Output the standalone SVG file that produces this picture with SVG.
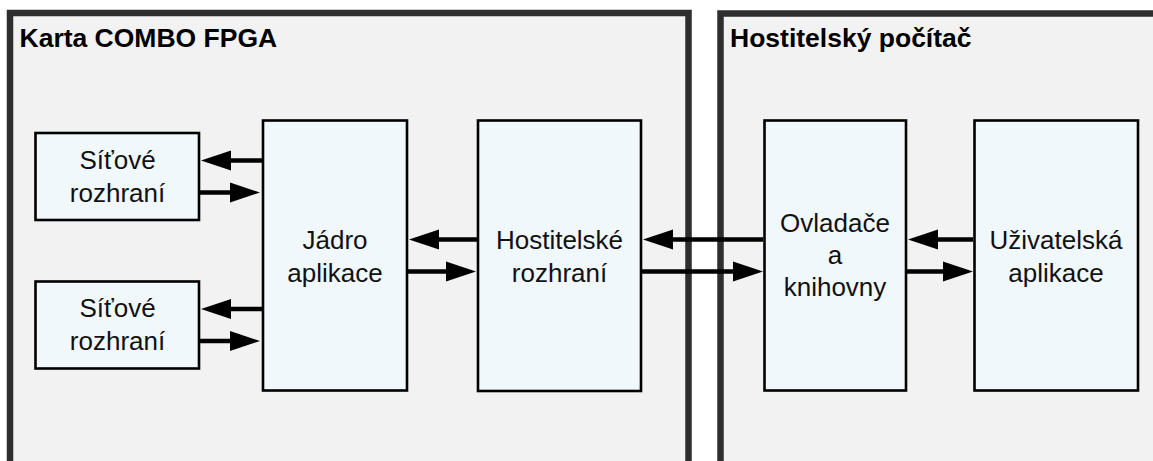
<svg xmlns="http://www.w3.org/2000/svg" width="1153" height="461" viewBox="0 0 1153 461">
<style>
.cont{fill:#f2f2f2;stroke:#2e2e2e;stroke-width:6.5}
.box{fill:#f1f8fb;stroke:#000;stroke-width:2.6}
.title{font-family:"Liberation Sans",Arial,sans-serif;font-weight:bold;font-size:26.5px;fill:#000}
.lbl{font-family:"Liberation Sans",Arial,sans-serif;font-size:26px;fill:#111;text-anchor:middle}
.arr{stroke:#000;stroke-width:4.5;fill:none;marker-end:url(#ah)}
</style>
<defs>
<marker id="ah" markerUnits="userSpaceOnUse" markerWidth="31" markerHeight="21" refX="0" refY="10" orient="auto" overflow="visible">
<path d="M0,0 L30,10 L0,20 Z" fill="#000"/>
</marker>
</defs>
<rect width="1153" height="461" fill="#fff"/>
<g id="card">
<rect class="cont" x="10" y="13" width="678.5" height="470"/>
<text class="title" x="19.5" y="47">Karta COMBO FPGA</text>
</g>
<g id="host">
<rect class="cont" x="720.5" y="13.5" width="450" height="470"/>
<text class="title" x="730" y="47">Hostitelský počítač</text>
</g>
<g id="net1">
<rect class="box" x="35.5" y="133" width="163.5" height="87"/>
<text class="lbl" x="117.5" y="168.5">Síťové</text>
<text class="lbl" x="117.5" y="201.5">rozhraní</text>
</g>
<g id="net2">
<rect class="box" x="35.5" y="281.5" width="163.5" height="87"/>
<text class="lbl" x="117.5" y="317">Síťové</text>
<text class="lbl" x="117.5" y="350">rozhraní</text>
</g>
<g id="core">
<rect class="box" x="263" y="120.5" width="144" height="270"/>
<text class="lbl" x="335" y="248.5">Jádro</text>
<text class="lbl" x="335" y="281.5">aplikace</text>
</g>
<g id="hostif">
<rect class="box" x="478" y="120.5" width="163" height="270.5"/>
<text class="lbl" x="559.5" y="248.5">Hostitelské</text>
<text class="lbl" x="559.5" y="281.5">rozhraní</text>
</g>
<g id="drivers">
<rect class="box" x="764.5" y="120.5" width="141.5" height="270"/>
<text class="lbl" x="835" y="232">Ovladače</text>
<text class="lbl" x="835" y="264">a</text>
<text class="lbl" x="835" y="296">knihovny</text>
</g>
<g id="userapp">
<rect class="box" x="974.5" y="120.5" width="163.5" height="270"/>
<text class="lbl" x="1056" y="248.5">Uživatelská</text>
<text class="lbl" x="1056" y="281.5">aplikace</text>
</g>
<g id="connectors">
<path class="arr" d="M262,160.5 H231"/>
<path class="arr" d="M198,192.5 H230"/>
<path class="arr" d="M262,309 H231"/>
<path class="arr" d="M198,341 H230"/>
<path class="arr" d="M477,239.5 H439"/>
<path class="arr" d="M408,271.5 H446"/>
<path class="arr" d="M763,239.5 H673"/>
<path class="arr" d="M642,271.5 H733"/>
<path class="arr" d="M973,239.5 H938"/>
<path class="arr" d="M907,271.5 H943"/>
</g>
</svg>
